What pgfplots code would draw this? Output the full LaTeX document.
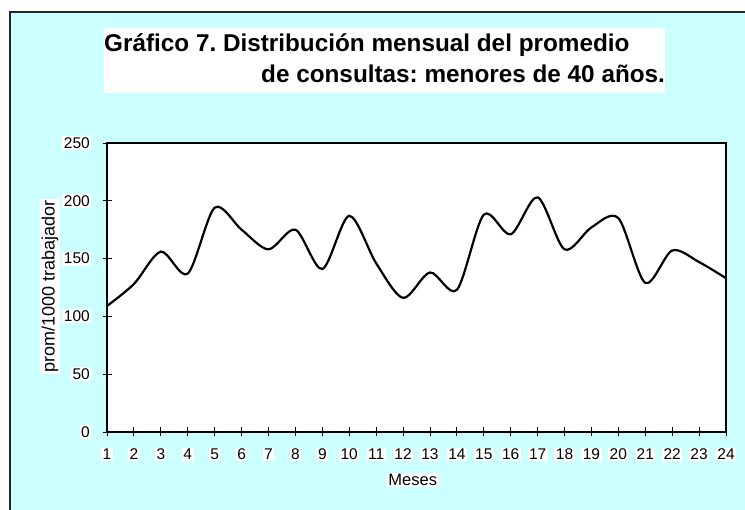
\documentclass[border=0pt]{standalone}
\usepackage{pgfplots}
\pgfplotsset{compat=1.18}
\usepackage{fontspec}
\setmainfont{Liberation Sans}
\definecolor{bgcyan}{RGB}{204,255,255}
\frenchspacing
\begin{document}
\begin{tikzpicture}[x=1bp,y=1bp]
\useasboundingbox (0,0) rectangle (745,510);
\fill[bgcyan] (10,0) rectangle (745,498);
\draw[line width=1.2bp, black!85] (10,0) -- (10,498) -- (745,498);
\fill[white] (104,417) rectangle (665,482);
\node[anchor=base west, inner sep=0pt, font=\fontsize{24.3bp}{28bp}\selectfont\bfseries] at (104,458) {Gráfico 7. Distribución mensual del promedio};
\node[anchor=base west, inner sep=0pt, font=\fontsize{24.3bp}{28bp}\selectfont\bfseries] at (261,427) {de consultas: menores de 40 años.};
\begin{axis}[
  at={(107bp,78bp)}, anchor=south west,
  scale only axis, width=619bp, height=289bp,
  xmin=1, xmax=24, ymin=0, ymax=250,
  xtick={1,...,24}, ytick={0,50,...,250},
  tick align=center, major tick length=9bp,
  xtick pos=bottom, ytick pos=left,
  axis line style={line width=1.8bp},
  tick style={line width=0.9bp, black},
  axis background/.style={fill=white},
  /pgf/number format/assume math mode=true,
  xticklabel style={fill=white, inner sep=1.5bp, font=\fontsize{15.5bp}{17bp}\selectfont, anchor=center, yshift=-18bp},
  yticklabel style={fill=white, inner sep=1.5bp, font=\fontsize{15.5bp}{17bp}\selectfont, anchor=east, xshift=-11bp},
  xlabel={Meses},
  ylabel={prom/1000 trabajador},
  every axis x label/.style={at={(axis description cs:0.494,-0.166)}, anchor=center, fill=white, inner sep=1.5bp, font=\fontsize{16.5bp}{18bp}\selectfont},
  every axis y label/.style={at={(axis description cs:-0.092,0.502)}, anchor=center, rotate=90, fill=white, inner sep=1.5bp, font=\fontsize{18bp}{20bp}\selectfont},
]
\addplot[black, line width=2.2bp, smooth, tension=0.5] coordinates {
(1,109) (2,128) (3,156) (4,137) (5,194) (6,175) (7,158) (8,175)
(9,141) (10,187) (11,146) (12,116) (13,138) (14,123) (15,188) (16,171)
(17,203) (18,158) (19,177) (20,185) (21,129) (22,157) (23,147) (24,133)
};
\end{axis}
\end{tikzpicture}
\end{document}
